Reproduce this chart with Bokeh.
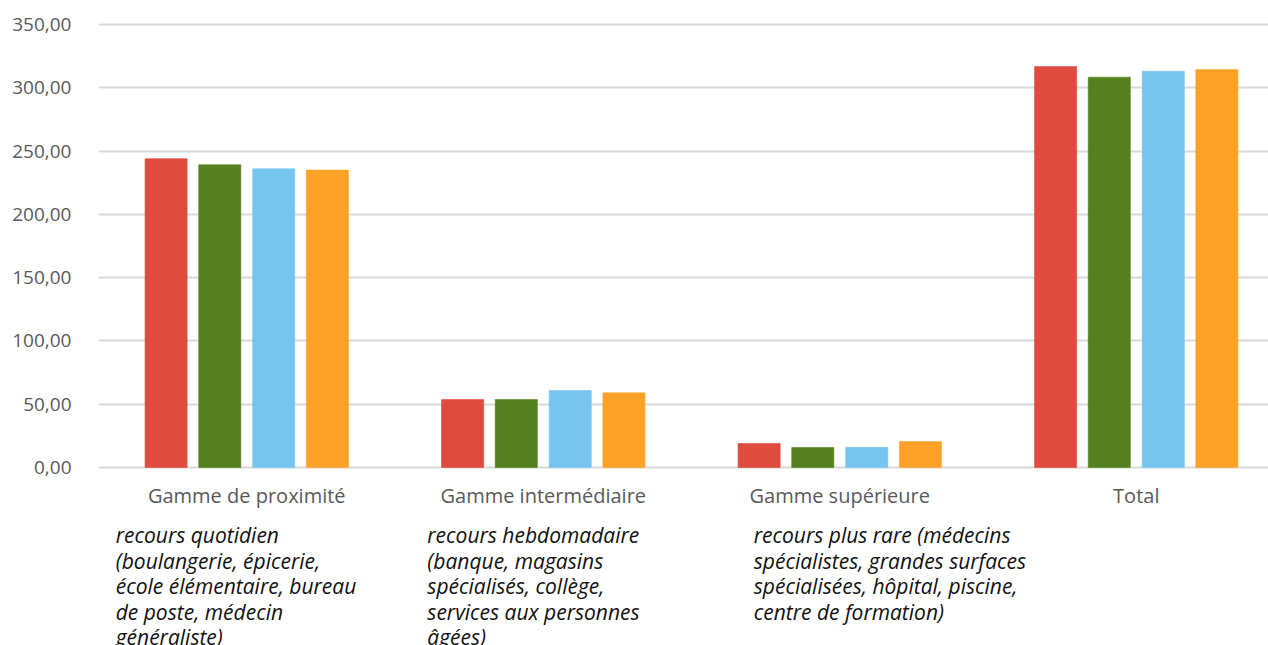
from bokeh.plotting import figure
from bokeh.models import FixedTicker, Range1d, ColumnDataSource
from bokeh.core.properties import value
from bokeh.embed import file_html
from bokeh.resources import INLINE

# ---- data ----
categories = ["Gamme de proximité", "Gamme intermédiaire", "Gamme supérieure", "Total"]
descriptions = [
    "recours quotidien\n(boulangerie, épicerie,\nécole élémentaire, bureau\nde poste, médecin\ngénéraliste)",
    "recours hebdomadaire\n(banque, magasins\nspécialisés, collège,\nservices aux personnes\nâgées)",
    "recours plus rare (médecins\nspécialistes, grandes surfaces\nspécialisées, hôpital, piscine,\ncentre de formation)",
]
series_1 = [244.0, 53.7, 19.0, 316.8]
series_2 = [239.2, 53.7, 15.8, 308.4]
series_3 = [236.0, 60.8, 16.0, 313.1]
series_4 = [235.0, 59.0, 20.5, 314.5]
tick_values = [0, 50, 100, 150, 200, 250, 300, 350]
tick_labels = ["0,00", "50,00", "100,00", "150,00", "200,00", "250,00", "300,00", "350,00"]

series = [series_1, series_2, series_3, series_4]
colors = ["#DF4B3F", "#55801E", "#75C5EE", "#FDA128"]
offsets = [-0.272, -0.091, 0.091, 0.272]
bar_width = 0.142

p = figure(width=1268, height=645, output_backend="svg", toolbar_location=None,
           x_axis_type=None, x_range=Range1d(0, 3.946), y_range=Range1d(-140.6, 369.0),
           min_border=0, min_border_left=98, min_border_right=0, min_border_top=0,
           min_border_bottom=0)
p.outline_line_color = None
p.background_fill_color = "white"
p.border_fill_color = "white"

# grid / axis
p.yaxis.ticker = FixedTicker(ticks=tick_values)
p.yaxis.major_label_overrides = {v: l for v, l in zip(tick_values, tick_labels)}
p.yaxis.axis_line_color = None
p.yaxis.major_tick_line_color = None
p.yaxis.minor_tick_line_color = None
p.yaxis.major_label_text_font = "Open Sans"
p.yaxis.major_label_text_font_size = "19px"
p.yaxis.major_label_text_color = "#595959"
p.yaxis.major_label_standoff = 21
p.ygrid.ticker = FixedTicker(ticks=tick_values)
p.ygrid.grid_line_color = "#D9D9D9"
p.ygrid.grid_line_width = 2

xs_center = [i + 0.5 for i in range(len(categories))]
for vals, col, off in zip(series, colors, offsets):
    src = ColumnDataSource(dict(x=[c + off for c in xs_center], top=vals))
    p.vbar(x="x", top="top", bottom=0, width=bar_width, source=src,
           fill_color=col, line_color=col, line_alpha=0.6, line_width=1)

# category labels
cat_src = ColumnDataSource(dict(x=xs_center, y=[-22.1] * len(categories), t=categories))
p.text(x="x", y="y", text="t", source=cat_src, text_align="center",
       text_baseline="middle", text_font=value("Open Sans"), text_font_size="20px",
       text_color="#595959")

# descriptions
desc_x = [xs_center[0] - 0.442, xs_center[1] - 0.391, xs_center[2] - 0.29]
desc_src = ColumnDataSource(dict(x=desc_x, y=[-42.3] * len(descriptions), t=descriptions))
p.text(x="x", y="y", text="t", source=desc_src, text_align="left",
       text_baseline="top", text_font=value("Open Sans"), text_font_size="21px",
       text_font_style="italic", text_color="#111111", text_line_height=0.91)

open("out.html", "w").write(file_html(p, INLINE))
